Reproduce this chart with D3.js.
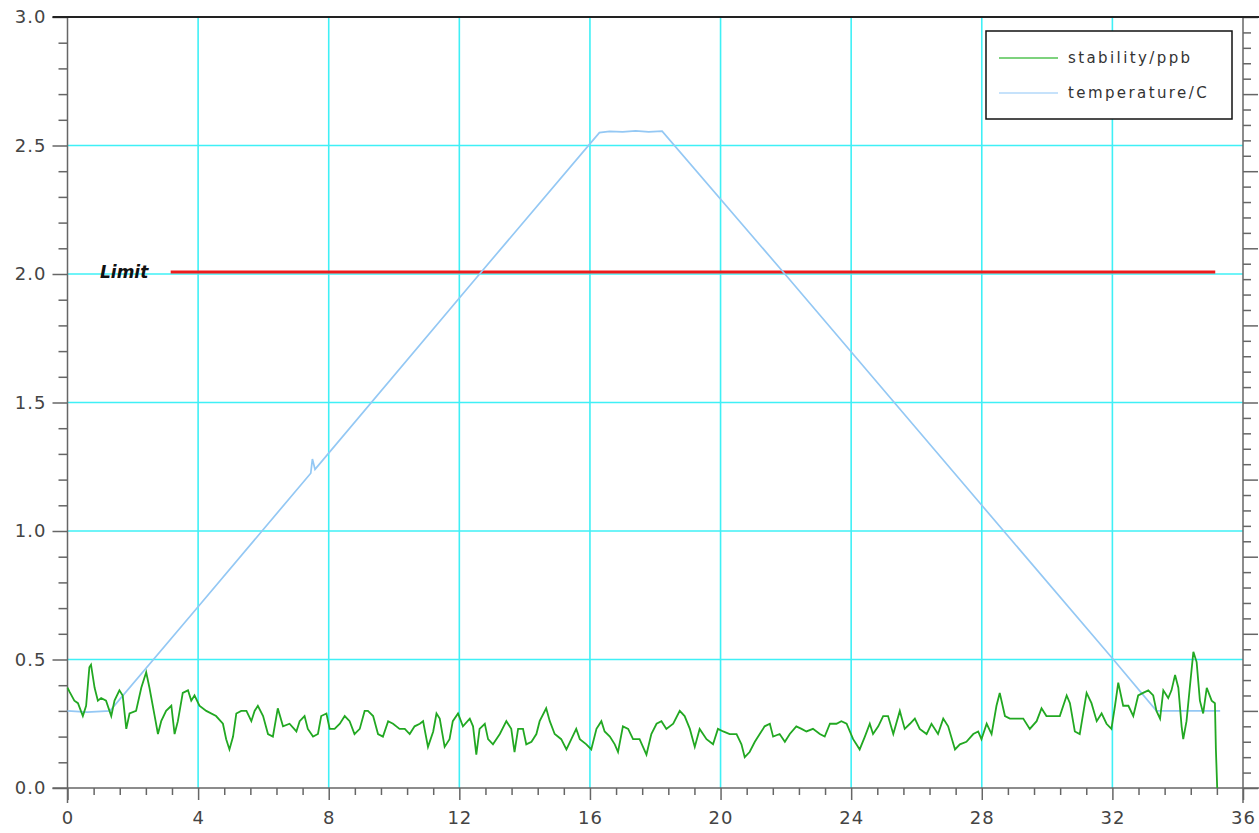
<!DOCTYPE html>
<html>
<head>
<meta charset="utf-8">
<script src="https://cdn.jsdelivr.net/npm/d3@7"></script>
<style>
  html, body { margin: 0; padding: 0; background: #fff; }
  svg { display: block; }
  .tick-label { font-family: "DejaVu Sans", sans-serif; font-size: 18px; fill: #444; letter-spacing: 1px; }
  .legend-text { font-family: "DejaVu Sans", sans-serif; font-size: 15px; fill: #333; letter-spacing: 2.4px; }
</style>
</head>
<body>
<svg id="chart" width="1259" height="833"></svg>
<script>
// Time axis ticks and value axis ticks
const xTickValues = [0, 4, 8, 12, 16, 20, 24, 28, 32, 36];
const yTickValues = [0.0, 0.5, 1.0, 1.5, 2.0, 2.5, 3.0];

// Limit threshold drawn as a red line
const limitValue = 2.0;
const limitRange = [3.16, 35.15];
const limitLabel = "Limit";

// Series names
const seriesNames = ["stability/ppb", "temperature/C"];

// Temperature profile: [time, value]
const temperature = [
  [0.0, 0.30], [0.6, 0.295], [1.3, 0.30], [4.0, 0.705], [7.45, 1.225], [7.5, 1.28], [7.58, 1.24],
  [12.62, 2.0], [16.29, 2.55], [16.6, 2.555], [17.0, 2.553], [17.4, 2.557], [17.8, 2.553],
  [18.21, 2.556], [21.97, 2.0], [28.0, 1.10], [32.03, 0.50], [33.35, 0.30],
  [34.2, 0.30], [35.3, 0.30]
];

// Stability trace: [time, value]
const stability = [
  [0.00, 0.39], [0.06, 0.375], [0.21, 0.34], [0.32, 0.33], [0.47, 0.28], [0.57, 0.32], [0.67, 0.47],
  [0.72, 0.48], [0.83, 0.39], [0.93, 0.34], [1.03, 0.35], [1.18, 0.34], [1.34, 0.28], [1.44, 0.34],
  [1.59, 0.38], [1.69, 0.36], [1.80, 0.23], [1.90, 0.29], [2.10, 0.30], [2.26, 0.39], [2.41, 0.45],
  [2.51, 0.39], [2.67, 0.28], [2.77, 0.21], [2.87, 0.26], [3.02, 0.30], [3.18, 0.32], [3.28, 0.21],
  [3.38, 0.26], [3.53, 0.37], [3.69, 0.38], [3.79, 0.34], [3.89, 0.36], [4.04, 0.32], [4.25, 0.30],
  [4.55, 0.28], [4.76, 0.25], [4.86, 0.19], [4.96, 0.15], [5.07, 0.20], [5.17, 0.29], [5.32, 0.30],
  [5.48, 0.30], [5.63, 0.26], [5.73, 0.30], [5.83, 0.32], [5.99, 0.28], [6.14, 0.21], [6.29, 0.20],
  [6.44, 0.31], [6.60, 0.24], [6.80, 0.25], [7.01, 0.22], [7.11, 0.26], [7.26, 0.28], [7.36, 0.23],
  [7.52, 0.20], [7.67, 0.21], [7.77, 0.28], [7.93, 0.29], [8.03, 0.23], [8.18, 0.23], [8.34, 0.25],
  [8.49, 0.28], [8.64, 0.26], [8.79, 0.21], [8.95, 0.23], [9.10, 0.30], [9.20, 0.30], [9.36, 0.28],
  [9.51, 0.21], [9.66, 0.20], [9.82, 0.26], [9.97, 0.25], [10.17, 0.23], [10.33, 0.23], [10.48, 0.21],
  [10.63, 0.24], [10.79, 0.25], [10.89, 0.26], [11.04, 0.16], [11.20, 0.22], [11.30, 0.29], [11.40, 0.27],
  [11.55, 0.16], [11.70, 0.19], [11.80, 0.26], [11.96, 0.29], [12.11, 0.24], [12.32, 0.27], [12.42, 0.24],
  [12.52, 0.13], [12.62, 0.23], [12.78, 0.25], [12.88, 0.19], [13.03, 0.17], [13.24, 0.21], [13.44, 0.26],
  [13.59, 0.23], [13.69, 0.14], [13.80, 0.23], [13.95, 0.23], [14.05, 0.17], [14.21, 0.18], [14.36, 0.21],
  [14.46, 0.26], [14.66, 0.31], [14.77, 0.26], [14.92, 0.21], [15.12, 0.19], [15.28, 0.15], [15.43, 0.19],
  [15.58, 0.23], [15.69, 0.19], [15.89, 0.17], [16.04, 0.15], [16.20, 0.23], [16.35, 0.26], [16.45, 0.22],
  [16.61, 0.20], [16.76, 0.17], [16.86, 0.14], [17.01, 0.24], [17.17, 0.23], [17.32, 0.19], [17.52, 0.19],
  [17.73, 0.13], [17.88, 0.21], [18.04, 0.25], [18.19, 0.26], [18.34, 0.23], [18.55, 0.25], [18.75, 0.30],
  [18.90, 0.28], [19.06, 0.23], [19.21, 0.16], [19.36, 0.23], [19.57, 0.19], [19.77, 0.17], [19.92, 0.23],
  [20.08, 0.22], [20.28, 0.21], [20.49, 0.21], [20.64, 0.17], [20.74, 0.12], [20.89, 0.14], [21.05, 0.18],
  [21.20, 0.21], [21.35, 0.24], [21.51, 0.25], [21.61, 0.20], [21.81, 0.21], [21.97, 0.18], [22.12, 0.21],
  [22.32, 0.24], [22.48, 0.23], [22.63, 0.22], [22.83, 0.23], [23.04, 0.21], [23.19, 0.20], [23.35, 0.25],
  [23.55, 0.25], [23.70, 0.26], [23.86, 0.25], [24.06, 0.19], [24.16, 0.17], [24.26, 0.15], [24.42, 0.20],
  [24.57, 0.25], [24.67, 0.21], [24.83, 0.24], [24.98, 0.28], [25.13, 0.28], [25.29, 0.21], [25.49, 0.30],
  [25.64, 0.23], [25.80, 0.25], [25.95, 0.27], [26.10, 0.23], [26.31, 0.21], [26.46, 0.25], [26.66, 0.21],
  [26.82, 0.27], [26.97, 0.24], [27.18, 0.15], [27.33, 0.17], [27.53, 0.18], [27.74, 0.21], [27.89, 0.22],
  [27.99, 0.19], [28.15, 0.25], [28.30, 0.21], [28.45, 0.32], [28.55, 0.37], [28.71, 0.28], [28.86, 0.27],
  [29.06, 0.27], [29.27, 0.27], [29.47, 0.23], [29.68, 0.26], [29.83, 0.31], [29.98, 0.28], [30.19, 0.28],
  [30.39, 0.28], [30.60, 0.36], [30.70, 0.33], [30.85, 0.22], [31.00, 0.21], [31.21, 0.37], [31.36, 0.33],
  [31.52, 0.26], [31.67, 0.29], [31.82, 0.25], [31.97, 0.23], [32.08, 0.32], [32.18, 0.41], [32.33, 0.32],
  [32.49, 0.32], [32.64, 0.28], [32.79, 0.36], [32.94, 0.37], [33.10, 0.38], [33.25, 0.36], [33.35, 0.30],
  [33.46, 0.27], [33.56, 0.38], [33.71, 0.35], [33.81, 0.38], [33.92, 0.44], [34.02, 0.39], [34.12, 0.24],
  [34.17, 0.19], [34.27, 0.26], [34.37, 0.39], [34.48, 0.53], [34.58, 0.49], [34.68, 0.34], [34.78, 0.29],
  [34.89, 0.39], [35.04, 0.34], [35.14, 0.33], [35.17, 0.15], [35.21, 0.0]
];

const colors = { stability: "#22a822", temperature: "#94c8f4", grid: "#3ff0f6", limit: "#ee1c1c" };

const svg = d3.select("#chart");
const x = d3.scaleLinear().domain([0, 36]).range([67.5, 1243]);
const y = d3.scaleLinear().domain([0, 3]).range([788, 17]);
// Secondary scale on the right side (ticks only)
const y2 = d3.scaleLinear().domain([0, 10]).range([788, 17]);

// Grid lines
const grid = svg.append("g").attr("stroke", colors.grid).attr("stroke-width", 1.6);
grid.selectAll("line.v").data(xTickValues.filter(d => d > 0 && d < 36)).join("line")
  .attr("x1", d => x(d)).attr("x2", d => x(d)).attr("y1", y(3)).attr("y2", y(0));
grid.selectAll("line.h").data(yTickValues.filter(d => d > 0 && d < 3)).join("line")
  .attr("x1", x(0)).attr("x2", x(36)).attr("y1", d => y(d)).attr("y2", d => y(d));

// Axes
const axisColor = "#666";
function styleAxis(g) {
  g.select(".domain").remove();
  g.selectAll(".tick line").attr("stroke", axisColor).attr("stroke-width", 1.5);
}

// Left axis: majors with labels, minor ticks every 0.1
const yMinor = d3.range(0, 30.001, 1).map(d => d / 10).filter(d => Math.round(d * 10) % 5 !== 0);
svg.append("g").attr("transform", `translate(${x(0)},0)`)
  .call(d3.axisLeft(y).tickValues(yMinor).tickSize(9).tickFormat(""))
  .call(styleAxis);
svg.append("g").attr("transform", `translate(${x(0)},0)`)
  .call(d3.axisLeft(y).tickValues(yTickValues).tickSize(15).tickPadding(6).tickFormat(d3.format(".1f")))
  .call(styleAxis)
  .call(g => g.selectAll("text").attr("class", "tick-label").attr("fill", null));

// Bottom axis: majors every 4, minors every 0.8
const xMinor = d3.range(0, 45).map(i => i * 0.8).filter((d, i) => i % 5 !== 0);
svg.append("g").attr("transform", `translate(0,${y(0)})`)
  .call(d3.axisBottom(x).tickValues(xMinor).tickSize(7).tickFormat(""))
  .call(styleAxis);
svg.append("g").attr("transform", `translate(0,${y(0)})`)
  .call(d3.axisBottom(x).tickValues(xTickValues).tickSize(12).tickPadding(10).tickFormat(d3.format("d")))
  .call(styleAxis)
  .call(g => g.selectAll("text").attr("class", "tick-label").attr("fill", null).attr("dy", "0.8em"));

// Right axis: ticks only
svg.append("g").attr("transform", `translate(${x(36)},0)`)
  .call(d3.axisRight(y2).tickValues(d3.range(0, 50).map(i => i / 5).filter((d, i) => i % 5 !== 0)).tickSize(8).tickFormat(""))
  .call(styleAxis);
svg.append("g").attr("transform", `translate(${x(36)},0)`)
  .call(d3.axisRight(y2).tickValues(d3.range(0, 11)).tickSize(15).tickFormat(""))
  .call(styleAxis);

// Axis lines
svg.append("line").attr("x1", x(0)).attr("x2", x(0)).attr("y1", y(3)).attr("y2", y(0) + 15)
  .attr("stroke", axisColor).attr("stroke-width", 1.5);
svg.append("line").attr("x1", x(36)).attr("x2", x(36)).attr("y1", y(3)).attr("y2", y(0) + 15)
  .attr("stroke", axisColor).attr("stroke-width", 1.5);
svg.append("line").attr("x1", x(0) - 15).attr("x2", 1259).attr("y1", y(0)).attr("y2", y(0))
  .attr("stroke", axisColor).attr("stroke-width", 1.5);
svg.append("line").attr("x1", x(0) - 15).attr("x2", 1259).attr("y1", y(3)).attr("y2", y(3))
  .attr("stroke", "#222").attr("stroke-width", 2);

// Limit line and label
svg.append("line")
  .attr("x1", x(limitRange[0])).attr("x2", x(limitRange[1]))
  .attr("y1", y(limitValue) - 2).attr("y2", y(limitValue) - 2)
  .attr("stroke", colors.limit).attr("stroke-width", 3);
svg.append("text").text(limitLabel)
  .attr("x", 100).attr("y", y(limitValue) + 4)
  .attr("font-family", "DejaVu Sans, sans-serif").attr("font-size", 17)
  .attr("font-weight", "bold").attr("font-style", "italic").attr("fill", "#111");

// Series lines
const line = d3.line().x(d => x(d[0])).y(d => y(d[1]));
svg.append("path").datum(temperature).attr("d", line)
  .attr("fill", "none").attr("stroke", colors.temperature).attr("stroke-width", 1.7);
svg.append("path").datum(stability).attr("d", line)
  .attr("fill", "none").attr("stroke", colors.stability).attr("stroke-width", 1.8)
  .attr("stroke-linejoin", "miter");

// Legend
const legend = svg.append("g").attr("transform", "translate(986,31)");
legend.append("rect").attr("width", 246).attr("height", 88)
  .attr("fill", "#fff").attr("stroke", "#111").attr("stroke-width", 1.5);
const legendStroke = ["#7ed27e", "#c6e2fb"];
seriesNames.forEach((name, i) => {
  const cy = 27 + i * 35;
  legend.append("line").attr("x1", 13).attr("x2", 72).attr("y1", cy).attr("y2", cy)
    .attr("stroke", legendStroke[i]).attr("stroke-width", 2);
  legend.append("text").attr("class", "legend-text").attr("x", 82).attr("y", cy + 5).text(name);
});
</script>
</body>
</html>
